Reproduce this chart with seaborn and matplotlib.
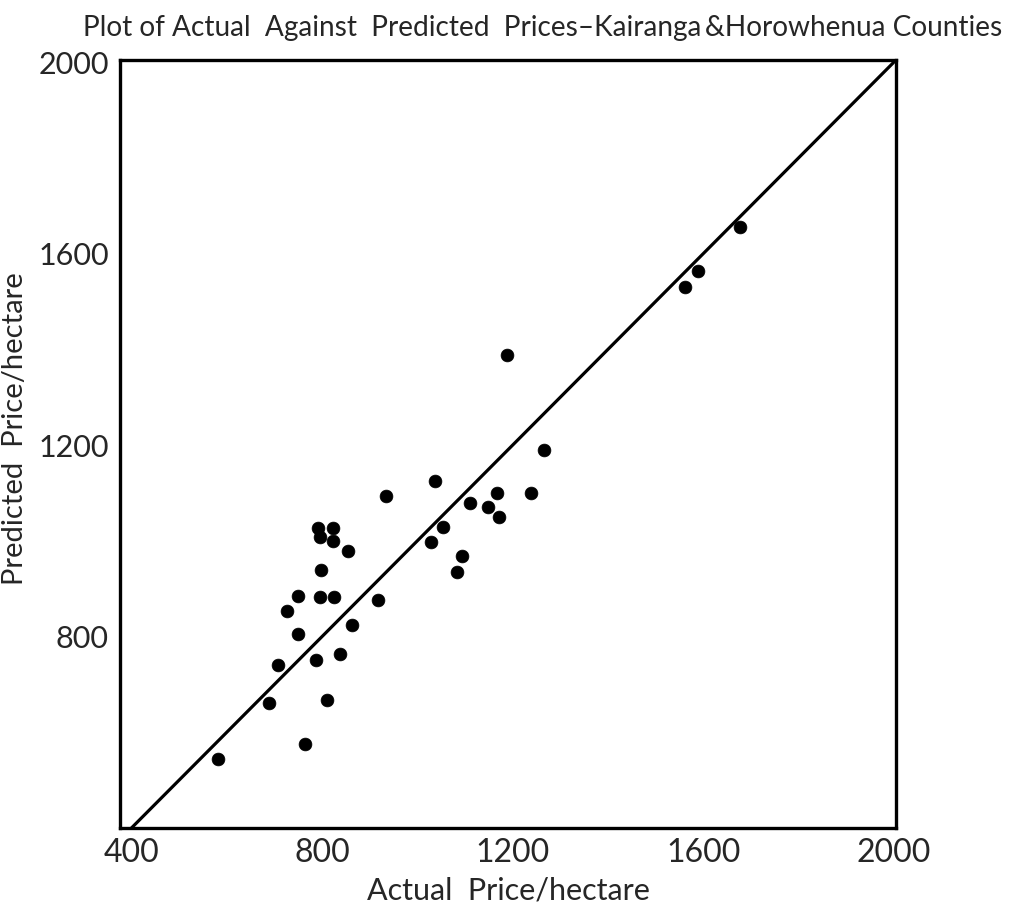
import matplotlib
matplotlib.use("Agg")
import matplotlib.pyplot as plt
import seaborn as sns
import pandas as pd

# Actual vs predicted price per hectare for each sale
actual = [582, 764, 689, 810, 707, 787, 838, 864, 749, 726, 749, 796, 825, 917,
          798, 855, 792, 796, 824, 824, 935, 1038, 1029, 1054, 1111, 1148, 1171,
          1168, 1093, 1083, 1238, 1265, 1188, 1561, 1590, 1678]
predicted = [545, 575, 662, 667, 740, 752, 764, 824, 806, 853, 884, 883, 883, 876,
             940, 979, 1026, 1008, 1026, 999, 1094, 1125, 998, 1029, 1079, 1071, 1049,
             1101, 969, 936, 1101, 1189, 1389, 1531, 1565, 1656]

# Line of perfect prediction
line_ends = [400, 2000]

x_ticks = [400, 800, 1200, 1600, 2000]
y_ticks = [800, 1200, 1600, 2000]

df = pd.DataFrame({"actual": actual, "predicted": predicted})
ref = pd.DataFrame({"x": line_ends, "y": line_ends})

sns.set_theme(style="white")
plt.rcParams["font.family"] = ["Lato", "DejaVu Sans"]

fig = plt.figure(figsize=(10.18, 9.06), dpi=100)
ax = fig.add_axes([0.1179, 0.0861, 0.7623, 0.8477])

sns.lineplot(data=ref, x="x", y="y", ax=ax, color="black", linewidth=2.3)
sns.scatterplot(data=df, x="actual", y="predicted", ax=ax, color="black",
                s=85, edgecolor="black", linewidth=0.5, zorder=3)

ax.set_xlim(376, 2005)
ax.set_ylim(400, 2005)

ax.set_xticks(x_ticks)
ax.set_xticklabels([str(v) for v in x_ticks])
ax.set_yticks(y_ticks)
ax.set_yticklabels([str(v) for v in y_ticks])

ax.tick_params(axis="x", direction="in", length=12, width=2, labelsize=23, pad=7)
ax.tick_params(axis="y", direction="out", length=7, width=2, labelsize=22, pad=1)
# the end labels sit at the corners without tick marks
for t in (ax.xaxis.get_major_ticks()[0], ax.xaxis.get_major_ticks()[-1]):
    t.tick1line.set_visible(False)

for sp in ax.spines.values():
    sp.set_linewidth(2.4)
    sp.set_color("black")

ax.set_xlabel("Actual  Price/hectare", fontsize=22, labelpad=6)
ax.set_ylabel("Predicted  Price/hectare", fontsize=21)
ax.yaxis.set_label_coords(-0.119, 0.52)

fig.text(0.533, 0.969,
         "Plot of Actual  Against  Predicted  Prices\u2013Kairanga\u2009&Horowhenua Counties",
         ha="center", va="center", fontsize=20.2, family=["Lato", "DejaVu Sans"])

fig.savefig("out.png", dpi=100, facecolor="white")
